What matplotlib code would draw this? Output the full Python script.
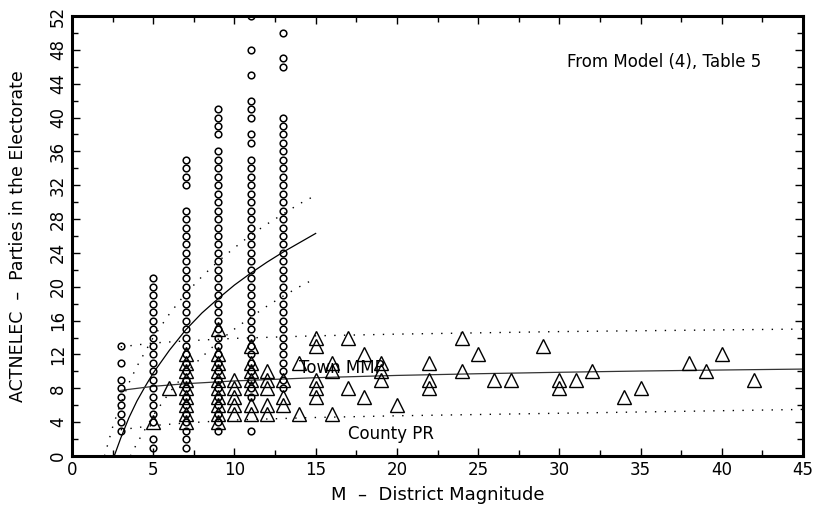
import numpy as np
import matplotlib.pyplot as plt
from matplotlib.ticker import MultipleLocator

# circles: observed values per district magnitude column (County PR)
circ_x3 = [3, 4, 5, 6, 7, 8, 9, 11, 13]
circ_x5 = [1, 2, 4, 5, 6, 7, 8, 9, 10, 11, 12, 13, 14, 15, 16, 17, 18, 19, 20, 21]
circ_x7 = [1, 2, 3, 4, 5, 6, 7, 8, 9, 10, 11, 12, 13, 14, 15, 16, 17, 18, 19, 20,
           21, 22, 23, 24, 25, 26, 27, 28, 29, 32, 33, 34, 35]
circ_x9 = [3, 4, 5, 6, 7, 8, 9, 10, 11, 12, 13, 14, 15, 16, 17, 18, 19, 20, 21, 22,
           23, 24, 25, 26, 27, 28, 29, 30, 31, 32, 33, 34, 35, 36, 38, 39, 40, 41]
circ_x11 = [3, 7, 8, 9, 10, 11, 12, 13, 14, 15, 16, 17, 18, 19, 20, 21, 22, 23, 24,
            25, 26, 27, 28, 29, 30, 31, 32, 33, 34, 35, 37, 38, 40, 41, 42, 45, 48, 52]
circ_x13 = [8, 9, 10, 11, 12, 13, 14, 15, 16, 17, 18, 19, 20, 21, 22, 23, 24, 25, 26,
            27, 28, 29, 30, 31, 32, 33, 34, 35, 36, 37, 38, 39, 40, 46, 47, 50]
circle_cols = {3: circ_x3, 5: circ_x5, 7: circ_x7, 9: circ_x9, 11: circ_x11, 13: circ_x13}

# triangles: Town MMP observations (x = M, y = parties)
tri_x = [5, 6,
         7, 7, 7, 7, 7, 7, 7, 7, 7,
         9, 9, 9, 9, 9, 9, 9, 9, 9, 9,
         10, 10, 10, 10, 10,
         11, 11, 11, 11, 11, 11, 11,
         12, 12, 12, 12, 12,
         13, 13, 13,
         14, 14,
         15, 15, 15, 15, 15,
         16, 16, 16,
         17, 17,
         18, 18,
         19, 19, 19,
         20,
         22, 22, 22,
         24, 24,
         25, 26, 27, 29,
         30, 30, 31, 32, 34, 35, 38, 39, 40, 42]
tri_y = [4, 8,
         4, 5, 6, 7, 8, 9, 10, 11, 12,
         4, 5, 6, 7, 8, 9, 10, 11, 12, 15,
         5, 6, 7, 8, 9,
         5, 6, 8, 9, 10, 11, 13,
         5, 6, 8, 9, 10,
         6, 7, 9,
         5, 11,
         7, 8, 9, 13, 14,
         5, 10, 11,
         8, 14,
         7, 12,
         9, 10, 11,
         6,
         8, 9, 11,
         10, 14,
         12, 9, 9, 13,
         8, 9, 9, 10, 7, 8, 11, 10, 12, 9]

# fitted curves
county_x = [2.6, 3, 3.5, 4, 4.5, 5, 6, 7, 8, 9, 10, 11, 12, 13, 14, 15]
county_y = [0, 2.1, 4.5, 6.5, 8.2, 9.8, 12.5, 14.9, 16.9, 18.6, 20.2, 21.6, 22.9, 24.1, 25.2, 26.3]
county_hi_x = [2.0, 2.5, 3, 3.5, 4, 5, 6, 7, 8, 9, 10, 11, 12, 13, 14, 15]
county_hi_y = [0, 3.4, 6.2, 8.6, 10.6, 14.0, 16.8, 19.2, 21.2, 23.0, 24.6, 26.1, 27.4, 28.6, 29.8, 30.8]
county_lo_x = [3.6, 4, 5, 6, 7, 8, 9, 10, 11, 12, 13, 14, 15]
county_lo_y = [0, 1.5, 4.8, 7.5, 9.8, 11.7, 13.5, 15.0, 16.4, 17.7, 18.9, 20.0, 21.0]

town_x = [3, 5, 7, 10, 15, 20, 25, 30, 35, 40, 45]
town_y = [7.75, 8.23, 8.54, 8.87, 9.25, 9.52, 9.72, 9.89, 10.04, 10.16, 10.27]
town_hi_y = [12.9, 13.35, 13.6, 13.9, 14.2, 14.4, 14.55, 14.7, 14.8, 14.9, 15.0]
town_lo_y = [3.1, 3.6, 3.9, 4.25, 4.55, 4.75, 4.9, 5.05, 5.2, 5.35, 5.5]

fig = plt.figure(figsize=(8.17, 5.15), dpi=100)
ax = fig.add_axes([0.0881, 0.1146, 0.8948, 0.8544])

for cx, vals in circle_cols.items():
    ax.plot([cx] * len(vals), vals, 'o', ms=4.8, mfc='none', mec='black', mew=1.1,
            zorder=3)

ax.plot(tri_x, tri_y, '^', ms=10.5, mfc='none', mec='black', mew=1.0, zorder=4)

dot = (0, (1, 6))
ax.plot(county_x, county_y, color='black', lw=0.9, zorder=2)
ax.plot(county_hi_x, county_hi_y, color='black', lw=1.0, ls=dot, zorder=2)
ax.plot(county_lo_x, county_lo_y, color='black', lw=1.0, ls=dot, zorder=2)
ax.plot(town_x, town_y, color='#333333', lw=0.9, zorder=2)
ax.plot(town_x, town_hi_y, color='black', lw=1.0, ls=dot, zorder=2)
ax.plot(town_x, town_lo_y, color='black', lw=1.0, ls=dot, zorder=2)

ax.text(42.4, 46.6, 'From Model (4), Table 5', ha='right', va='center', fontsize=12)
ax.text(14.0, 10.4, 'Town MMP', ha='left', va='center', fontsize=12)
ax.text(17.0, 2.6, 'County PR', ha='left', va='center', fontsize=12)

ax.set_xlim(0, 45)
ax.set_ylim(0, 52)
ax.xaxis.set_major_locator(MultipleLocator(5))
ax.xaxis.set_minor_locator(MultipleLocator(2.5))
ax.yaxis.set_major_locator(MultipleLocator(4))
ax.yaxis.set_minor_locator(MultipleLocator(2))
ax.tick_params(which='both', direction='in', top=True, right=True, width=1.0)
ax.tick_params(which='major', length=6, labelsize=12)
ax.tick_params(which='minor', length=4)
for lab in ax.get_yticklabels():
    lab.set_rotation(90)
    lab.set_va('center')
for sp in ax.spines.values():
    sp.set_linewidth(2.2)

ax.set_xlabel('M  –  District Magnitude', fontsize=13, labelpad=5)
ax.set_ylabel('ACTNELEC  –  Parties in the Electorate', fontsize=12.5, labelpad=16)

fig.savefig('out.png', dpi=100)
